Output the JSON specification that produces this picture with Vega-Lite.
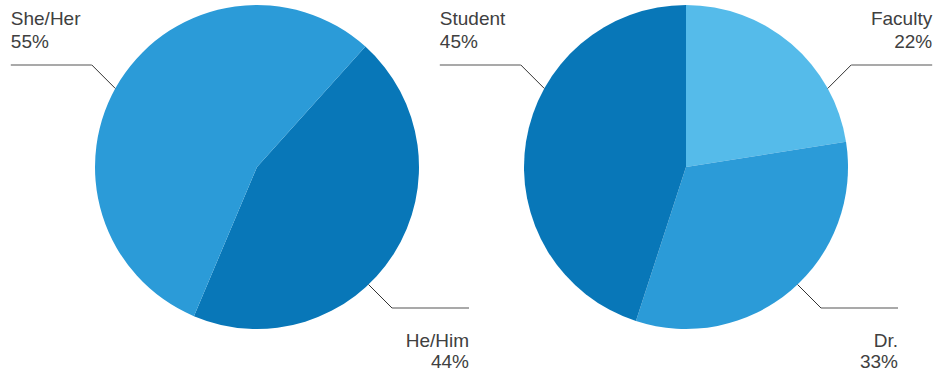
{
  "$schema": "https://vega.github.io/schema/vega-lite/v6.json",
  "padding": 0,
  "background": "white",
  "bounds": "flush",
  "spacing": 0,
  "config": {"view": {"stroke": null}, "text": {"font": "Liberation Sans"}},
  "datasets": {
    "pronouns": [
      {"label": "He/Him", "value": 44.7, "shown": 44, "order": 1},
      {"label": "She/Her", "value": 55.3, "shown": 55, "order": 2}
    ],
    "titles": [
      {"label": "Faculty", "value": 22.5, "shown": 22, "order": 1},
      {"label": "Dr.", "value": 32.5, "shown": 33, "order": 2},
      {"label": "Student", "value": 45, "shown": 45, "order": 3}
    ]
  },
  "resolve": {"scale": {"color": "independent", "theta": "independent", "x": "independent", "y": "independent"}},
  "hconcat": [
    {
      "width": 514,
      "height": 334,
      "data": {"name": "pronouns"},
      "transform": [
        {"joinaggregate": [{"op": "sum", "field": "value", "as": "total"}]},
        {"window": [{"op": "sum", "field": "value", "as": "cum"}], "sort": [{"field": "order"}], "frame": [null, 0]},
        {"calculate": "0.733 + 2*PI*(datum.cum - datum.value/2)/datum.total", "as": "mid"},
        {"calculate": "sin(datum.mid) < 0 ? -1 : 1", "as": "sx"},
        {"calculate": "cos(datum.mid) < 0 ? -1 : 1", "as": "sy"},
        {"calculate": "(datum.sy > 0 ? 61 : 136.5) * datum.sx * PI / 180", "as": "ea"},
        {"calculate": "162 * sin(datum.ea)", "as": "ex"},
        {"calculate": "162 * cos(datum.ea)", "as": "ey"},
        {"calculate": "datum.ex + datum.sx * 23.5", "as": "kx"},
        {"calculate": "datum.ey + datum.sy * 23.5", "as": "ky"},
        {"calculate": "datum.kx + datum.sx * (datum.sy > 0 ? 81 : 77)", "as": "hx"},
        {"calculate": "datum.sy > 0 ? datum.ky + 40 : datum.ky - 39", "as": "ny"},
        {"calculate": "datum.sy > 0 ? datum.ky + 17 : datum.ky - 60.3", "as": "py"},
        {"calculate": "datum.shown + '%'", "as": "pct"}
      ],
      "layer": [
        {
          "mark": {"type": "arc", "outerRadius": 162},
          "encoding": {
            "theta": {"field": "value", "type": "quantitative", "scale": {"range": [0.733, 7.0162]}},
            "color": {"field": "label", "type": "nominal", "scale": {"domain": ["She/Her", "He/Him"], "range": ["#2B9BD8", "#0877B8"]}, "legend": null},
            "order": {"field": "order", "type": "quantitative"}
          }
        },
        {
          "mark": {"type": "rule", "color": "#333333", "strokeWidth": 1},
          "encoding": {
            "x": {"field": "ex", "type": "quantitative", "scale": {"domain": [-257, 257], "nice": false, "zero": false}, "axis": null},
            "y": {"field": "ey", "type": "quantitative", "scale": {"domain": [-167, 167], "nice": false, "zero": false}, "axis": null},
            "x2": {"field": "kx"},
            "y2": {"field": "ky"}
          }
        },
        {
          "mark": {"type": "rule", "color": "#8c8c8c", "strokeWidth": 1.5},
          "encoding": {
            "x": {"field": "kx", "type": "quantitative", "axis": null},
            "y": {"field": "ky", "type": "quantitative", "axis": null},
            "x2": {"field": "hx"},
            "y2": {"field": "ky"}
          }
        },
        {
          "mark": {"type": "text", "align": {"expr": "datum.sx < 0 ? 'left' : 'right'"}, "baseline": "alphabetic", "fontSize": 19, "color": "#404040"},
          "encoding": {
            "x": {"field": "hx", "type": "quantitative", "axis": null},
            "y": {"field": "ny", "type": "quantitative", "axis": null},
            "text": {"field": "label"}
          }
        },
        {
          "mark": {"type": "text", "align": {"expr": "datum.sx < 0 ? 'left' : 'right'"}, "baseline": "alphabetic", "fontSize": 19, "color": "#404040"},
          "encoding": {
            "x": {"field": "hx", "type": "quantitative", "axis": null},
            "y": {"field": "py", "type": "quantitative", "axis": null},
            "text": {"field": "pct"}
          }
        }
      ]
    },
    {
      "width": 344,
      "height": 334,
      "data": {"name": "titles"},
      "transform": [
        {"joinaggregate": [{"op": "sum", "field": "value", "as": "total"}]},
        {"window": [{"op": "sum", "field": "value", "as": "cum"}], "sort": [{"field": "order"}], "frame": [null, 0]},
        {"calculate": "2*PI*(datum.cum - datum.value/2)/datum.total", "as": "mid"},
        {"calculate": "sin(datum.mid) < 0 ? -1 : 1", "as": "sx"},
        {"calculate": "cos(datum.mid) < 0 ? -1 : 1", "as": "sy"},
        {"calculate": "(datum.sy > 0 ? 61 : 136.5) * datum.sx * PI / 180", "as": "ea"},
        {"calculate": "162 * sin(datum.ea)", "as": "ex"},
        {"calculate": "162 * cos(datum.ea)", "as": "ey"},
        {"calculate": "datum.ex + datum.sx * 23.5", "as": "kx"},
        {"calculate": "datum.ey + datum.sy * 23.5", "as": "ky"},
        {"calculate": "datum.kx + datum.sx * (datum.sy > 0 ? 81 : 77)", "as": "hx"},
        {"calculate": "datum.sy > 0 ? datum.ky + 40 : datum.ky - 39", "as": "ny"},
        {"calculate": "datum.sy > 0 ? datum.ky + 17 : datum.ky - 60.3", "as": "py"},
        {"calculate": "datum.shown + '%'", "as": "pct"}
      ],
      "layer": [
        {
          "mark": {"type": "arc", "outerRadius": 162},
          "encoding": {
            "theta": {"field": "value", "type": "quantitative"},
            "color": {"field": "label", "type": "nominal", "scale": {"domain": ["Faculty", "Dr.", "Student"], "range": ["#55BBEA", "#2B9BD8", "#0877B8"]}, "legend": null},
            "order": {"field": "order", "type": "quantitative"}
          }
        },
        {
          "mark": {"type": "rule", "color": "#333333", "strokeWidth": 1},
          "encoding": {
            "x": {"field": "ex", "type": "quantitative", "scale": {"domain": [-172, 172], "nice": false, "zero": false}, "axis": null},
            "y": {"field": "ey", "type": "quantitative", "scale": {"domain": [-167, 167], "nice": false, "zero": false}, "axis": null},
            "x2": {"field": "kx"},
            "y2": {"field": "ky"}
          }
        },
        {
          "mark": {"type": "rule", "color": "#8c8c8c", "strokeWidth": 1.5},
          "encoding": {
            "x": {"field": "kx", "type": "quantitative", "axis": null},
            "y": {"field": "ky", "type": "quantitative", "axis": null},
            "x2": {"field": "hx"},
            "y2": {"field": "ky"}
          }
        },
        {
          "mark": {"type": "text", "align": {"expr": "datum.sx < 0 ? 'left' : 'right'"}, "baseline": "alphabetic", "fontSize": 19, "color": "#404040"},
          "encoding": {
            "x": {"field": "hx", "type": "quantitative", "axis": null},
            "y": {"field": "ny", "type": "quantitative", "axis": null},
            "text": {"field": "label"}
          }
        },
        {
          "mark": {"type": "text", "align": {"expr": "datum.sx < 0 ? 'left' : 'right'"}, "baseline": "alphabetic", "fontSize": 19, "color": "#404040"},
          "encoding": {
            "x": {"field": "hx", "type": "quantitative", "axis": null},
            "y": {"field": "py", "type": "quantitative", "axis": null},
            "text": {"field": "pct"}
          }
        }
      ]
    }
  ]
}
